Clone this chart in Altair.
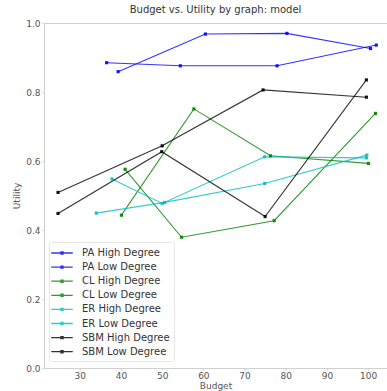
import altair as alt
import pandas as pd

series_names = ["PA High Degree", "PA Low Degree", "CL High Degree", "CL Low Degree",
                "ER High Degree", "ER Low Degree", "SBM High Degree", "SBM Low Degree"]
series_colors = ["#0000ff", "#0000ff", "#008000", "#008000",
                 "#00bfbf", "#00bfbf", "#000000", "#000000"]

budgets = {
    "PA High Degree": [36.5, 54.4, 77.9, 102.0],
    "PA Low Degree": [39.3, 60.5, 80.3, 100.6],
    "CL High Degree": [40.1, 57.7, 76.3, 100.1],
    "CL Low Degree": [41.0, 54.7, 77.2, 101.8],
    "ER High Degree": [37.8, 50.0, 74.9, 99.6],
    "ER Low Degree": [34.0, 50.6, 74.9, 99.7],
    "SBM High Degree": [24.7, 50.0, 74.5, 99.6],
    "SBM Low Degree": [24.7, 49.9, 75.0, 99.6],
}
utilities = {
    "PA High Degree": [0.885, 0.876, 0.876, 0.936],
    "PA Low Degree": [0.859, 0.968, 0.970, 0.926],
    "CL High Degree": [0.443, 0.751, 0.615, 0.593],
    "CL Low Degree": [0.576, 0.379, 0.427, 0.738],
    "ER High Degree": [0.548, 0.477, 0.612, 0.609],
    "ER Low Degree": [0.449, 0.480, 0.535, 0.617],
    "SBM High Degree": [0.509, 0.644, 0.806, 0.785],
    "SBM Low Degree": [0.448, 0.627, 0.439, 0.835],
}

rows = []
for s in series_names:
    for i, (b, u) in enumerate(zip(budgets[s], utilities[s])):
        rows.append({"series": s, "Budget": b, "Utility": u, "idx": i})
df = pd.DataFrame(rows)

x_ticks = [30, 40, 50, 60, 70, 80, 90, 100]
y_ticks = [0.0, 0.2, 0.4, 0.6, 0.8, 1.0]

color = alt.Color(
    "series:N",
    scale=alt.Scale(domain=series_names, range=series_colors),
    legend=alt.Legend(
        title=None, orient="none", legendX=5, legendY=219,
        symbolType="M-1.7,0H1.7M-0.17,-0.17H0.17V0.17H-0.17Z",
        symbolSize=160, symbolStrokeWidth=1.3, symbolOffset=2,
        labelFontSize=10, labelFont="DejaVu Sans", labelColor="#333333",
        rowPadding=2.1, labelOffset=13,
        fillColor="white", strokeColor="#e6e6e6", padding=4, cornerRadius=2,
    ),
)

x = alt.X("Budget:Q", scale=alt.Scale(domain=[21.3, 104.6], nice=False, zero=False),
          axis=alt.Axis(values=x_ticks, title="Budget", grid=False))
y = alt.Y("Utility:Q", scale=alt.Scale(domain=[0, 1], nice=False),
          axis=alt.Axis(values=y_ticks, format=".1f", title="Utility", grid=False))

lines = alt.Chart(df).mark_line(strokeWidth=1.1, opacity=0.8).encode(
    x=x, y=y, color=color, order="idx:Q", detail="series:N")
points = alt.Chart(df).mark_point(filled=True, size=10, opacity=0.9, shape="square").encode(
    x=x, y=y, color=alt.Color("series:N", scale=alt.Scale(domain=series_names, range=series_colors), legend=None))

chart = alt.layer(lines, points).properties(
    width=343, height=345,
    title=alt.TitleParams("Budget vs. Utility by graph: model", fontSize=10, font="DejaVu Sans",
                          fontWeight="normal", color="#333333", offset=4),
    autosize=alt.AutoSizeParams(type="none"),
    padding={"left": 44, "top": 23, "right": 0, "bottom": 23},
).configure_view(stroke="#d0d0d0", strokeWidth=1).configure_axis(
    labelFont="DejaVu Sans", labelFontSize=9, labelColor="#555555",
    titleFont="DejaVu Sans", titleFontSize=9, titleFontWeight="normal", titleColor="#555555",
    domainColor="#d0d0d0", tickColor="#d0d0d0", tickSize=2,
).configure_axisY(labelPadding=2, titlePadding=4).configure_axisX(labelPadding=1, titlePadding=1)

chart.save("out.html", embed_options={"renderer": "svg", "actions": False})
